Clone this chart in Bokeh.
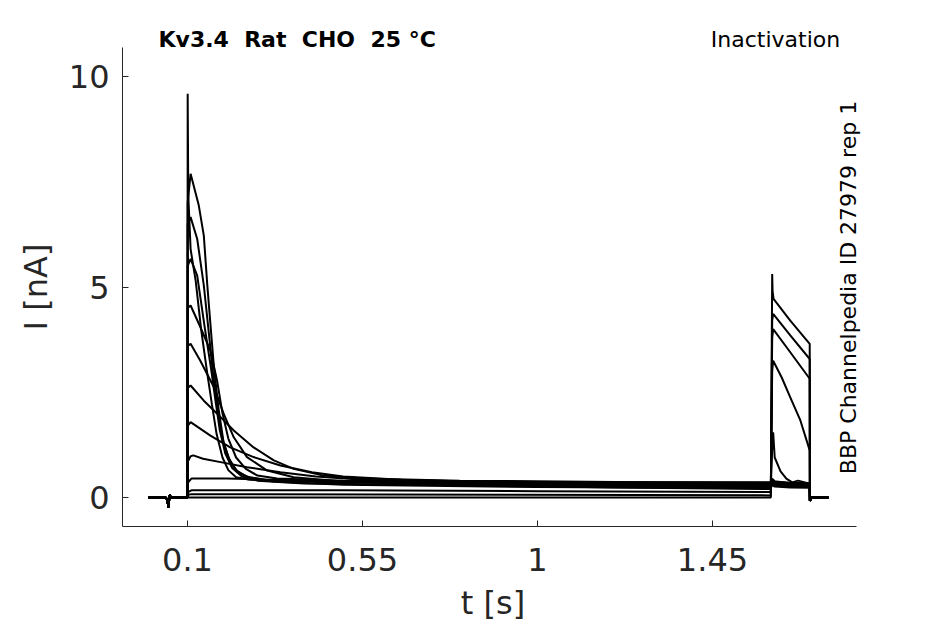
import numpy as np
from bokeh.plotting import figure
from bokeh.models import Range1d, FixedTicker, NumeralTickFormatter, LinearAxis, Title, Label
from bokeh.embed import file_html
from bokeh.resources import INLINE

# ---------------- data ----------------
X_TICKS = [0.1, 0.55, 1, 1.45]
Y_TICKS = [0, 5, 10]
X_AXIS_SPAN = (-0.0671, 1.8203)   # extent of the drawn x axis line
X_VIEW = (-0.0671, 1.8383)        # visible x range (a little wider, room for the side note)
Y_RANGE = (-0.689, 10.689)

# common holding segment before the prepulse (with small artefact)
BASE_T = [0.0, 0.044, 0.048, 0.051, 0.054, 0.058, 0.0995]
BASE_I = [0.0, 0.0, -0.05, -0.24, 0.06, 0.0, 0.0]

# prepulse segments (0.1 s -> 1.6 s), one per sweep
PRE_T = [
    [0.1, 0.1005, 0.102, 0.108, 0.121, 0.135, 0.15, 0.163, 0.175, 0.19, 0.205, 0.225, 0.26, 0.35, 0.6, 1.0, 1.6],
    [0.1, 0.1005, 0.108, 0.129, 0.142, 0.151, 0.16, 0.168, 0.18, 0.193, 0.21, 0.23, 0.26, 0.32, 0.5, 1.0, 1.6],
    [0.1, 0.1005, 0.108, 0.125, 0.142, 0.155, 0.165, 0.177, 0.19, 0.205, 0.225, 0.25, 0.3, 0.45, 1.0, 1.6],
    [0.1, 0.1005, 0.108, 0.125, 0.145, 0.16, 0.172, 0.183, 0.197, 0.215, 0.24, 0.28, 0.4, 1.0, 1.6],
    [0.1, 0.1005, 0.108, 0.133, 0.159, 0.176, 0.19, 0.205, 0.225, 0.25, 0.28, 0.33, 0.5, 1.0, 1.6],
    [0.1, 0.1005, 0.108, 0.133, 0.168, 0.193, 0.219, 0.253, 0.305, 0.373, 0.5, 0.7, 1.0, 1.6],
    [0.1, 0.1005, 0.108, 0.142, 0.185, 0.219, 0.27, 0.322, 0.373, 0.45, 0.55, 0.8, 1.2, 1.6],
    [0.1, 0.1005, 0.108, 0.159, 0.21, 0.27, 0.339, 0.42, 0.5, 0.65, 0.9, 1.3, 1.6],
    [0.1, 0.1005, 0.108, 0.115, 0.14, 0.185, 0.253, 0.339, 0.43, 0.55, 0.8, 1.2, 1.6],
    [0.1, 0.1005, 0.11, 0.2, 0.4, 0.8, 1.2, 1.6],
    [0.1, 0.1005, 0.11, 0.5, 1.0, 1.6],
    [0.1, 0.1005, 0.11, 1.6],
    [0.1, 1.6],
]
PRE_I = [
    [0.0, 9.59, 7.2, 5.9, 5.15, 4.0, 3.0, 2.2, 1.5, 0.95, 0.65, 0.48, 0.42, 0.4, 0.38, 0.37, 0.36],
    [0.0, 7.0, 7.69, 6.94, 6.22, 5.04, 4.0, 3.1, 2.1, 1.3, 0.85, 0.6, 0.47, 0.38, 0.3, 0.25, 0.22],
    [0.0, 6.5, 6.66, 6.14, 5.04, 3.9, 3.0, 2.1, 1.4, 0.95, 0.65, 0.5, 0.42, 0.36, 0.32, 0.3],
    [0.0, 5.5, 5.67, 5.27, 4.0, 3.1, 2.3, 1.6, 1.05, 0.7, 0.5, 0.4, 0.33, 0.27, 0.25],
    [0.0, 4.5, 4.56, 4.05, 3.49, 2.78, 2.0, 1.4, 0.95, 0.68, 0.52, 0.45, 0.4, 0.35, 0.33],
    [0.0, 3.6, 3.65, 3.25, 2.62, 1.99, 1.43, 0.96, 0.64, 0.48, 0.38, 0.33, 0.3, 0.28],
    [0.0, 2.6, 2.66, 2.30, 1.91, 1.59, 1.19, 0.88, 0.68, 0.52, 0.45, 0.4, 0.37, 0.35],
    [0.0, 1.7, 1.79, 1.47, 1.19, 0.96, 0.76, 0.6, 0.5, 0.42, 0.36, 0.33, 0.31],
    [0.0, 0.85, 0.98, 1.0, 0.92, 0.84, 0.72, 0.6, 0.5, 0.42, 0.33, 0.27, 0.24],
    [0.0, 0.35, 0.45, 0.45, 0.4, 0.3, 0.24, 0.2],
    [0.0, 0.12, 0.17, 0.17, 0.15, 0.13],
    [0.0, 0.06, 0.08, 0.05],
    [0.0, 0.0],
]

# test pulse segments (1.6 s -> 1.7 s)
TEST_T = [
    [1.6035, 1.61, 1.65, 1.7],
    [1.6035, 1.61, 1.65, 1.7],
    [1.6035, 1.61, 1.65, 1.7],
    [1.6035, 1.61, 1.65, 1.7],
    [1.6035, 1.61, 1.65, 1.7],
    [1.6035, 1.61, 1.65, 1.7],
    [1.6035, 1.61, 1.65, 1.7],
    [1.6035, 1.61, 1.65, 1.7],
    [1.6035, 1.606, 1.61, 1.625, 1.64, 1.655, 1.67, 1.7],
    [1.6035, 1.606, 1.628, 1.65, 1.676, 1.7],
    [1.6035, 1.606, 1.65, 1.7],
    [1.6035, 1.606, 1.65, 1.7],
    [1.6035, 1.6045, 1.607, 1.65, 1.7],
]
TEST_I = [
    [0.44, 0.38, 0.34, 0.32],
    [0.30, 0.26, 0.24, 0.23],
    [0.38, 0.33, 0.30, 0.29],
    [0.32, 0.28, 0.26, 0.25],
    [0.42, 0.36, 0.33, 0.32],
    [0.36, 0.31, 0.29, 0.28],
    [0.44, 0.38, 0.35, 0.34],
    [0.40, 0.34, 0.32, 0.31],
    [1.2, 1.55, 0.95, 0.62, 0.45, 0.36, 0.40, 0.33],
    [3.0, 3.25, 2.85, 2.38, 1.83, 1.12],
    [3.8, 4.0, 3.45, 2.82],
    [4.2, 4.36, 3.85, 3.29],
    [5.31, 4.9, 4.72, 4.2, 3.65],
]

# return to holding potential
POST_T = [1.7005, 1.704, 1.748]
POST_I = [-0.08, 0.0, 0.0]

TITLE = "Kv3.4 \u00a0Rat \u00a0CHO \u00a025 °C"
PROTOCOL = "Inactivation"
SOURCE = "BBP Channelpedia ID 27979 rep 1"
PROTOCOL_X = 1.612    # horizontal centre of the protocol name (data units)

AX = "#262626"

# ---------------- figure ----------------
p = figure(width=945, height=624, output_backend="svg", toolbar_location=None, title=None,
           x_range=Range1d(*X_VIEW), y_range=Range1d(*Y_RANGE),
           min_border_left=122, min_border_right=82, min_border_top=47, min_border_bottom=98)
p.outline_line_color = None
p.grid.visible = False
p.background_fill_color = "white"
p.border_fill_color = "white"

for k in range(len(PRE_T)):
    t = BASE_T + PRE_T[k] + TEST_T[k] + POST_T
    i = BASE_I + PRE_I[k] + TEST_I[k] + POST_I
    p.line(t, i, line_color="black", line_width=2)

for ax in (p.xaxis[0], p.yaxis[0]):
    ax.axis_line_color = AX
    ax.axis_line_width = 1
    ax.major_tick_line_color = AX
    ax.major_tick_in = 6
    ax.major_tick_out = 0
    ax.minor_tick_line_color = None
    ax.major_label_text_font = "DejaVu Sans"
    ax.major_label_text_font_size = "32px"
    ax.major_label_text_color = AX
    ax.axis_label_text_font = "DejaVu Sans"
    ax.axis_label_text_font_size = "32px"
    ax.axis_label_text_font_style = "normal"
    ax.axis_label_text_color = AX

p.xaxis[0].ticker = FixedTicker(ticks=X_TICKS)
p.xaxis[0].formatter = NumeralTickFormatter(format="0.[00]")
p.xaxis[0].bounds = X_AXIS_SPAN
p.xaxis[0].major_label_standoff = 21
p.xaxis[0].axis_label = "t [s]"
p.xaxis[0].axis_label_standoff = 10
p.yaxis[0].ticker = FixedTicker(ticks=Y_TICKS)
p.yaxis[0].major_label_standoff = 13
p.yaxis[0].axis_label = "I [nA]"
p.yaxis[0].axis_label_standoff = 11


def text_axis(pos, label, standoff, size, style="normal", orientation="horizontal"):
    return LinearAxis(ticker=FixedTicker(ticks=[pos]), major_label_overrides={pos: label},
                      major_label_orientation=orientation, major_label_standoff=standoff,
                      axis_line_color=None, major_tick_line_color=None, minor_tick_line_color=None,
                      major_tick_in=0, major_tick_out=0, minor_tick_in=0, minor_tick_out=0,
                      major_label_text_font="DejaVu Sans", major_label_text_font_size=size,
                      major_label_text_font_style=style, major_label_text_color="black")


# header: bold title (nearest the frame) and the protocol name on the same row
p.add_layout(Title(text=TITLE, align="left", offset=36, standoff=-8, text_font="DejaVu Sans",
                   text_font_size="22px", text_font_style="bold", text_color="black"), "above")
p.add_layout(text_axis(PROTOCOL_X, PROTOCOL, -23, "22px"), "above")

# rotated source note at the right edge (screen units from the frame's bottom-left)
p.add_layout(Label(x=726, y=239, x_units="screen", y_units="screen", text=SOURCE, angle=np.pi / 2,
                   text_font="DejaVu Sans", text_font_size="22px", text_color="black",
                   text_align="center", text_baseline="alphabetic"))

open("out.html", "w").write(file_html(p, INLINE))
